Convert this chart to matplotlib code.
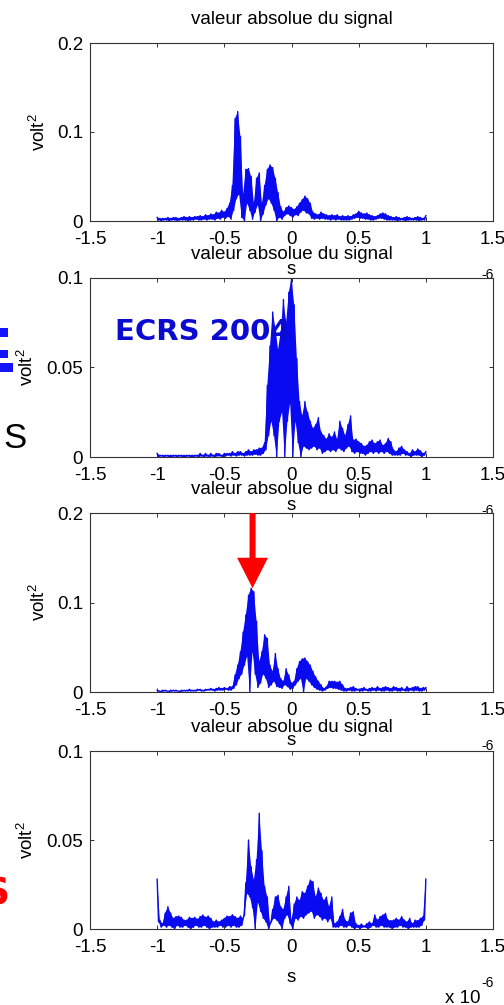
import numpy as np
import matplotlib
matplotlib.use('Agg')
import matplotlib.pyplot as plt
from matplotlib.patches import Rectangle

plt.rcParams['font.family'] = ['Liberation Sans', 'DejaVu Sans']
plt.rcParams['axes.unicode_minus'] = False
plt.rcParams['mathtext.default'] = 'regular'

######################################################################## data
title = 'valeur absolue du signal'
ylabel = 'volt$^2$'
xlabel = 's'
xticks = [-1.5, -1, -0.5, 0, 0.5, 1, 1.5]
xtick_labels = ['-1.5', '-1', '-0.5', '0', '0.5', '1', '1.5']
yticks_big = [0, 0.1, 0.2]
ytick_labels_big = ['0', '0.1', '0.2']
yticks_small = [0, 0.05, 0.1]
ytick_labels_small = ['0', '0.05', '0.1']

# time grid in units of 1e-6 s : maxima read at t_peak, minima at t_dip
t_peak = np.linspace(-1, 1, 101)
t_dip = t_peak[:-1] + 0.01

# panel 1
p1_up = [0.004, 0.003, 0.003, 0.003, 0.004, 0.003, 0.004, 0.004, 0.003, 0.004,
         0.005, 0.004, 0.005, 0.004, 0.005, 0.005, 0.006, 0.005, 0.007, 0.006,
         0.008, 0.007, 0.010, 0.009, 0.012, 0.010, 0.014, 0.020, 0.040, 0.115,
         0.123, 0.095, 0.030, 0.058, 0.059, 0.050, 0.020, 0.048, 0.054, 0.020,
         0.040, 0.058, 0.063, 0.060, 0.048, 0.032, 0.016, 0.010, 0.015, 0.017,
         0.015, 0.013, 0.016, 0.020, 0.024, 0.028, 0.025, 0.020, 0.010, 0.008,
         0.007, 0.010, 0.008, 0.007, 0.006, 0.007, 0.006, 0.007, 0.005, 0.006,
         0.005, 0.006, 0.005, 0.007, 0.008, 0.011, 0.009, 0.008, 0.009, 0.007,
         0.006, 0.005, 0.006, 0.008, 0.009, 0.008, 0.006, 0.005, 0.004, 0.005,
         0.004, 0.003, 0.004, 0.005, 0.004, 0.003, 0.004, 0.005, 0.004, 0.003,
         0.006]
p1_lo = [0.001, 0.0, 0.001, 0.001, 0.0, 0.001, 0.001, 0.0, 0.001, 0.001,
         0.001, 0.0, 0.001, 0.001, 0.002, 0.001, 0.001, 0.002, 0.001, 0.002,
         0.002, 0.001, 0.003, 0.002, 0.004, 0.003, 0.005, 0.002, 0.012, 0.025,
         0.030, 0.004, 0.0, 0.020, 0.012, 0.002, 0.010, 0.018, 0.0, 0.008,
         0.018, 0.025, 0.020, 0.012, 0.0, 0.004, 0.002, 0.006, 0.008, 0.006,
         0.004, 0.007, 0.006, 0.010, 0.012, 0.009, 0.008, 0.003, 0.002, 0.003,
         0.002, 0.003, 0.002, 0.002, 0.001, 0.002, 0.001, 0.002, 0.001, 0.001,
         0.001, 0.001, 0.002, 0.003, 0.004, 0.003, 0.003, 0.002, 0.002, 0.001,
         0.001, 0.002, 0.003, 0.003, 0.002, 0.001, 0.001, 0.001, 0.001, 0.0,
         0.001, 0.001, 0.0, 0.001, 0.001, 0.001, 0.001, 0.0, 0.001, 0.001]

# panel 2
p2_up = [0.002, 0.001, 0.001, 0.001, 0.001, 0.001, 0.001, 0.001, 0.001, 0.001,
         0.001, 0.001, 0.001, 0.001, 0.001, 0.001, 0.002, 0.001, 0.002, 0.001,
         0.002, 0.001, 0.002, 0.002, 0.001, 0.002, 0.002, 0.002, 0.003, 0.002,
         0.003, 0.003, 0.002, 0.003, 0.004, 0.003, 0.004, 0.004, 0.005, 0.005,
         0.008, 0.040, 0.062, 0.081, 0.072, 0.060, 0.070, 0.088, 0.075, 0.092,
         0.100, 0.085, 0.055, 0.031, 0.023, 0.031, 0.025, 0.020, 0.016, 0.018,
         0.022, 0.014, 0.012, 0.010, 0.013, 0.011, 0.014, 0.010, 0.020, 0.016,
         0.012, 0.018, 0.023, 0.0095, 0.010, 0.0085, 0.0076, 0.006, 0.0065, 0.0085,
         0.0095, 0.0075, 0.0085, 0.0095, 0.0065, 0.0075, 0.0104, 0.0085, 0.004, 0.003,
         0.005, 0.006, 0.004, 0.003, 0.002, 0.004, 0.003, 0.0045, 0.0035, 0.002,
         0.003]
p2_lo = [0.0, 0.0005, 0.0, 0.0005, 0.0, 0.0, 0.0005, 0.0, 0.0005, 0.0,
         0.0, 0.0005, 0.0, 0.0, 0.0005, 0.0, 0.0005, 0.0, 0.0005, 0.0,
         0.0005, 0.0, 0.0005, 0.0005, 0.0, 0.0005, 0.001, 0.0005, 0.001, 0.0005,
         0.001, 0.001, 0.0005, 0.001, 0.001, 0.001, 0.0015, 0.001, 0.001, 0.002,
         0.004, 0.012, 0.020, 0.012, 0.0, 0.020, 0.025, 0.0, 0.020, 0.030,
         0.0, 0.020, 0.008, 0.0, 0.006, 0.005, 0.004, 0.005, 0.006, 0.004,
         0.005, 0.002, 0.003, 0.004, 0.003, 0.004, 0.003, 0.005, 0.004, 0.003,
         0.005, 0.006, 0.003, 0.002, 0.003, 0.002, 0.002, 0.001, 0.002, 0.003,
         0.002, 0.003, 0.002, 0.003, 0.002, 0.003, 0.002, 0.001, 0.001, 0.001,
         0.001, 0.002, 0.001, 0.001, 0.0, 0.001, 0.001, 0.001, 0.0, 0.001]

# panel 3
p3_up = [0.002, 0.001, 0.002, 0.002, 0.001, 0.002, 0.002, 0.002, 0.001, 0.002,
         0.002, 0.002, 0.003, 0.002, 0.002, 0.003, 0.003, 0.002, 0.003, 0.003,
         0.004, 0.003, 0.004, 0.005, 0.004, 0.005, 0.004, 0.006, 0.006, 0.019,
         0.030, 0.045, 0.067, 0.086, 0.108, 0.116, 0.112, 0.079, 0.034, 0.045,
         0.064, 0.060, 0.030, 0.023, 0.043, 0.026, 0.015, 0.012, 0.026, 0.019,
         0.010, 0.012, 0.026, 0.034, 0.037, 0.038, 0.034, 0.030, 0.023, 0.017,
         0.012, 0.008, 0.004, 0.006, 0.012, 0.012, 0.012, 0.011, 0.012, 0.008,
         0.004, 0.004, 0.005, 0.006, 0.004, 0.003, 0.004, 0.005, 0.003, 0.004,
         0.005, 0.004, 0.006, 0.004, 0.005, 0.006, 0.005, 0.004, 0.006, 0.005,
         0.004, 0.005, 0.003, 0.006, 0.004, 0.005, 0.006, 0.006, 0.004, 0.005,
         0.005]
p3_lo = [0.001, 0.0, 0.001, 0.001, 0.0, 0.001, 0.001, 0.001, 0.0, 0.001,
         0.001, 0.001, 0.001, 0.001, 0.001, 0.002, 0.001, 0.001, 0.002, 0.002,
         0.002, 0.001, 0.002, 0.002, 0.002, 0.003, 0.002, 0.002, 0.004, 0.008,
         0.015, 0.020, 0.030, 0.040, 0.0, 0.045, 0.020, 0.005, 0.010, 0.020,
         0.015, 0.005, 0.008, 0.012, 0.006, 0.005, 0.004, 0.008, 0.006, 0.003,
         0.004, 0.008, 0.012, 0.015, 0.0, 0.015, 0.012, 0.008, 0.005, 0.003,
         0.002, 0.001, 0.002, 0.004, 0.005, 0.004, 0.004, 0.003, 0.002, 0.001,
         0.001, 0.002, 0.001, 0.001, 0.002, 0.001, 0.001, 0.002, 0.001, 0.001,
         0.002, 0.001, 0.002, 0.001, 0.001, 0.002, 0.001, 0.001, 0.002, 0.001,
         0.001, 0.002, 0.001, 0.001, 0.002, 0.001, 0.002, 0.001, 0.001, 0.002]

# panel 4
p4_up = [0.028, 0.005, 0.003, 0.009, 0.0125, 0.009, 0.006, 0.007, 0.0073, 0.0066,
         0.005, 0.005, 0.0066, 0.006, 0.0066, 0.0055, 0.007, 0.0079, 0.0066, 0.0073,
         0.006, 0.004, 0.005, 0.004, 0.005, 0.006, 0.0073, 0.007, 0.008, 0.007,
         0.006, 0.0073, 0.006, 0.026, 0.050, 0.035, 0.0275, 0.039, 0.065, 0.044,
         0.024, 0.018, 0.003, 0.011, 0.018, 0.019, 0.0125, 0.011, 0.018, 0.024,
         0.005, 0.014, 0.018, 0.016, 0.021, 0.020, 0.024, 0.0275, 0.0266, 0.018,
         0.023, 0.020, 0.016, 0.018, 0.0125, 0.018, 0.003, 0.004, 0.007, 0.011,
         0.005, 0.004, 0.009, 0.0097, 0.003, 0.002, 0.0028, 0.0017, 0.003, 0.004,
         0.003, 0.0079, 0.005, 0.007, 0.0079, 0.0088, 0.005, 0.0047, 0.005, 0.006,
         0.005, 0.007, 0.005, 0.004, 0.006, 0.003, 0.005, 0.0047, 0.006, 0.007,
         0.028]
p4_lo = [0.004, 0.001, 0.002, 0.001, 0.002, 0.001, 0.0, 0.002, 0.001, 0.001,
         0.002, 0.001, 0.0, 0.001, 0.002, 0.001, 0.001, 0.002, 0.001, 0.0,
         0.001, 0.001, 0.001, 0.002, 0.001, 0.001, 0.002, 0.001, 0.002, 0.001,
         0.001, 0.002, 0.008, 0.020, 0.018, 0.012, 0.0, 0.015, 0.010, 0.006,
         0.004, 0.0, 0.004, 0.006, 0.005, 0.003, 0.0, 0.006, 0.008, 0.003,
         0.0, 0.006, 0.005, 0.007, 0.006, 0.008, 0.009, 0.010, 0.006, 0.008,
         0.007, 0.005, 0.006, 0.004, 0.006, 0.001, 0.001, 0.001, 0.002, 0.001,
         0.001, 0.002, 0.001, 0.0, 0.001, 0.0, 0.001, 0.001, 0.0, 0.001,
         0.002, 0.001, 0.001, 0.002, 0.001, 0.001, 0.001, 0.0, 0.001, 0.001,
         0.002, 0.001, 0.001, 0.0, 0.001, 0.001, 0.001, 0.001, 0.002, 0.005]

uppers = [p1_up, p2_up, p3_up, p4_up]
lowers = [p1_lo, p2_lo, p3_lo, p4_lo]
ymaxes = [0.2, 0.1, 0.2, 0.1]

# red arrow on panel 3 (points at the main peak)
arrow_x = -0.29
arrow_tip = 0.116

######################################################################## layout
W, H = 504., 1005.
boxes = [(43, 221), (278, 457), (513, 692), (751, 929)]   # top, bottom in px
ylab_x = [-0.102, -0.1315, -0.102, -0.1315]
blue = '#0a0af0'
axis_col = '0.2'


def zigzag(up, lo):
    x = np.empty(len(up) + len(lo))
    y = np.empty(len(up) + len(lo))
    x[0::2] = t_peak
    y[0::2] = up
    x[1::2] = t_dip
    y[1::2] = lo
    return x, y


fig = plt.figure(figsize=(W / 100, H / 100), dpi=100)

for k, (top, bot) in enumerate(boxes):
    h = bot - top
    ax = fig.add_axes([90 / W, 1 - bot / H, 403 / W, h / H])
    # dense oscillation: solid band between maxima and minima + the trace
    ax.fill(np.concatenate([t_peak, t_dip[::-1]]),
            np.concatenate([uppers[k], lowers[k][::-1]]),
            color=blue, lw=0)
    x, y = zigzag(uppers[k], lowers[k])
    ax.plot(x, y, color=blue, lw=1.0)

    ax.set_xlim(-1.5, 1.5)
    ax.set_ylim(0, ymaxes[k])
    ax.set_xticks(xticks)
    ax.set_xticklabels(xtick_labels)
    if ymaxes[k] == 0.2:
        ax.set_yticks(yticks_big)
        ax.set_yticklabels(ytick_labels_big)
    else:
        ax.set_yticks(yticks_small)
        ax.set_yticklabels(ytick_labels_small)
    ax.tick_params(direction='in', length=3, width=0.7, color=axis_col,
                   top=True, right=True, labelsize=13.5)
    ax.tick_params(axis='x', pad=7)
    ax.tick_params(axis='y', pad=5)
    for sp in ax.spines.values():
        sp.set_color(axis_col)
        sp.set_linewidth(0.8)

    ax.set_title(title, fontsize=13.5, pad=13.5)
    ax.set_ylabel(ylabel, fontsize=13.5)
    ax.yaxis.set_label_coords(ylab_x[k], 0.5)
    ax.set_xlabel(xlabel, fontsize=13.5)
    ax.xaxis.set_label_coords(0.5, -40. / h)

    # matlab style exponent under the axis (hidden by the next panel)
    ax.text((480 - 90) / 403., -74. / h, 'x 10', fontsize=13.5, ha='right',
            va='baseline', transform=ax.transAxes, clip_on=False)
    ax.text((481 - 90) / 403., -58. / h, '-6', fontsize=10, ha='left',
            va='baseline', transform=ax.transAxes, clip_on=False)

    if k == 2:
        ax.arrow(arrow_x, ymaxes[k], 0, arrow_tip - ymaxes[k], width=0.045,
                 head_width=0.23, head_length=0.034, length_includes_head=True,
                 fc='red', ec='none', clip_on=False, zorder=5)

# overlay text from the slide
fig.text(115 / W, 1 - 340 / H, 'ECRS 2004', fontsize=21, fontweight='bold',
         color='#0a0ad0', family='DejaVu Sans', va='baseline')
fig.text(3 / W, 1 - 448 / H, 'S', fontsize=25, color='black', va='baseline')
fig.text(-18 / W, 1 - 904 / H, 'S', fontsize=27, fontweight='bold',
         color='red', family='DejaVu Sans', va='baseline')

# cut-off blue glyph on the left margin
for (x0, y0, w, hh) in [(0, 328, 8, 9), (0, 350, 8, 8), (0, 363, 13, 9)]:
    fig.patches.append(Rectangle((x0 / W, 1 - (y0 + hh) / H), w / W, hh / H,
                                 transform=fig.transFigure, color='#1414ff',
                                 lw=0))

fig.savefig('out.png', dpi=100)
plt.close(fig)
